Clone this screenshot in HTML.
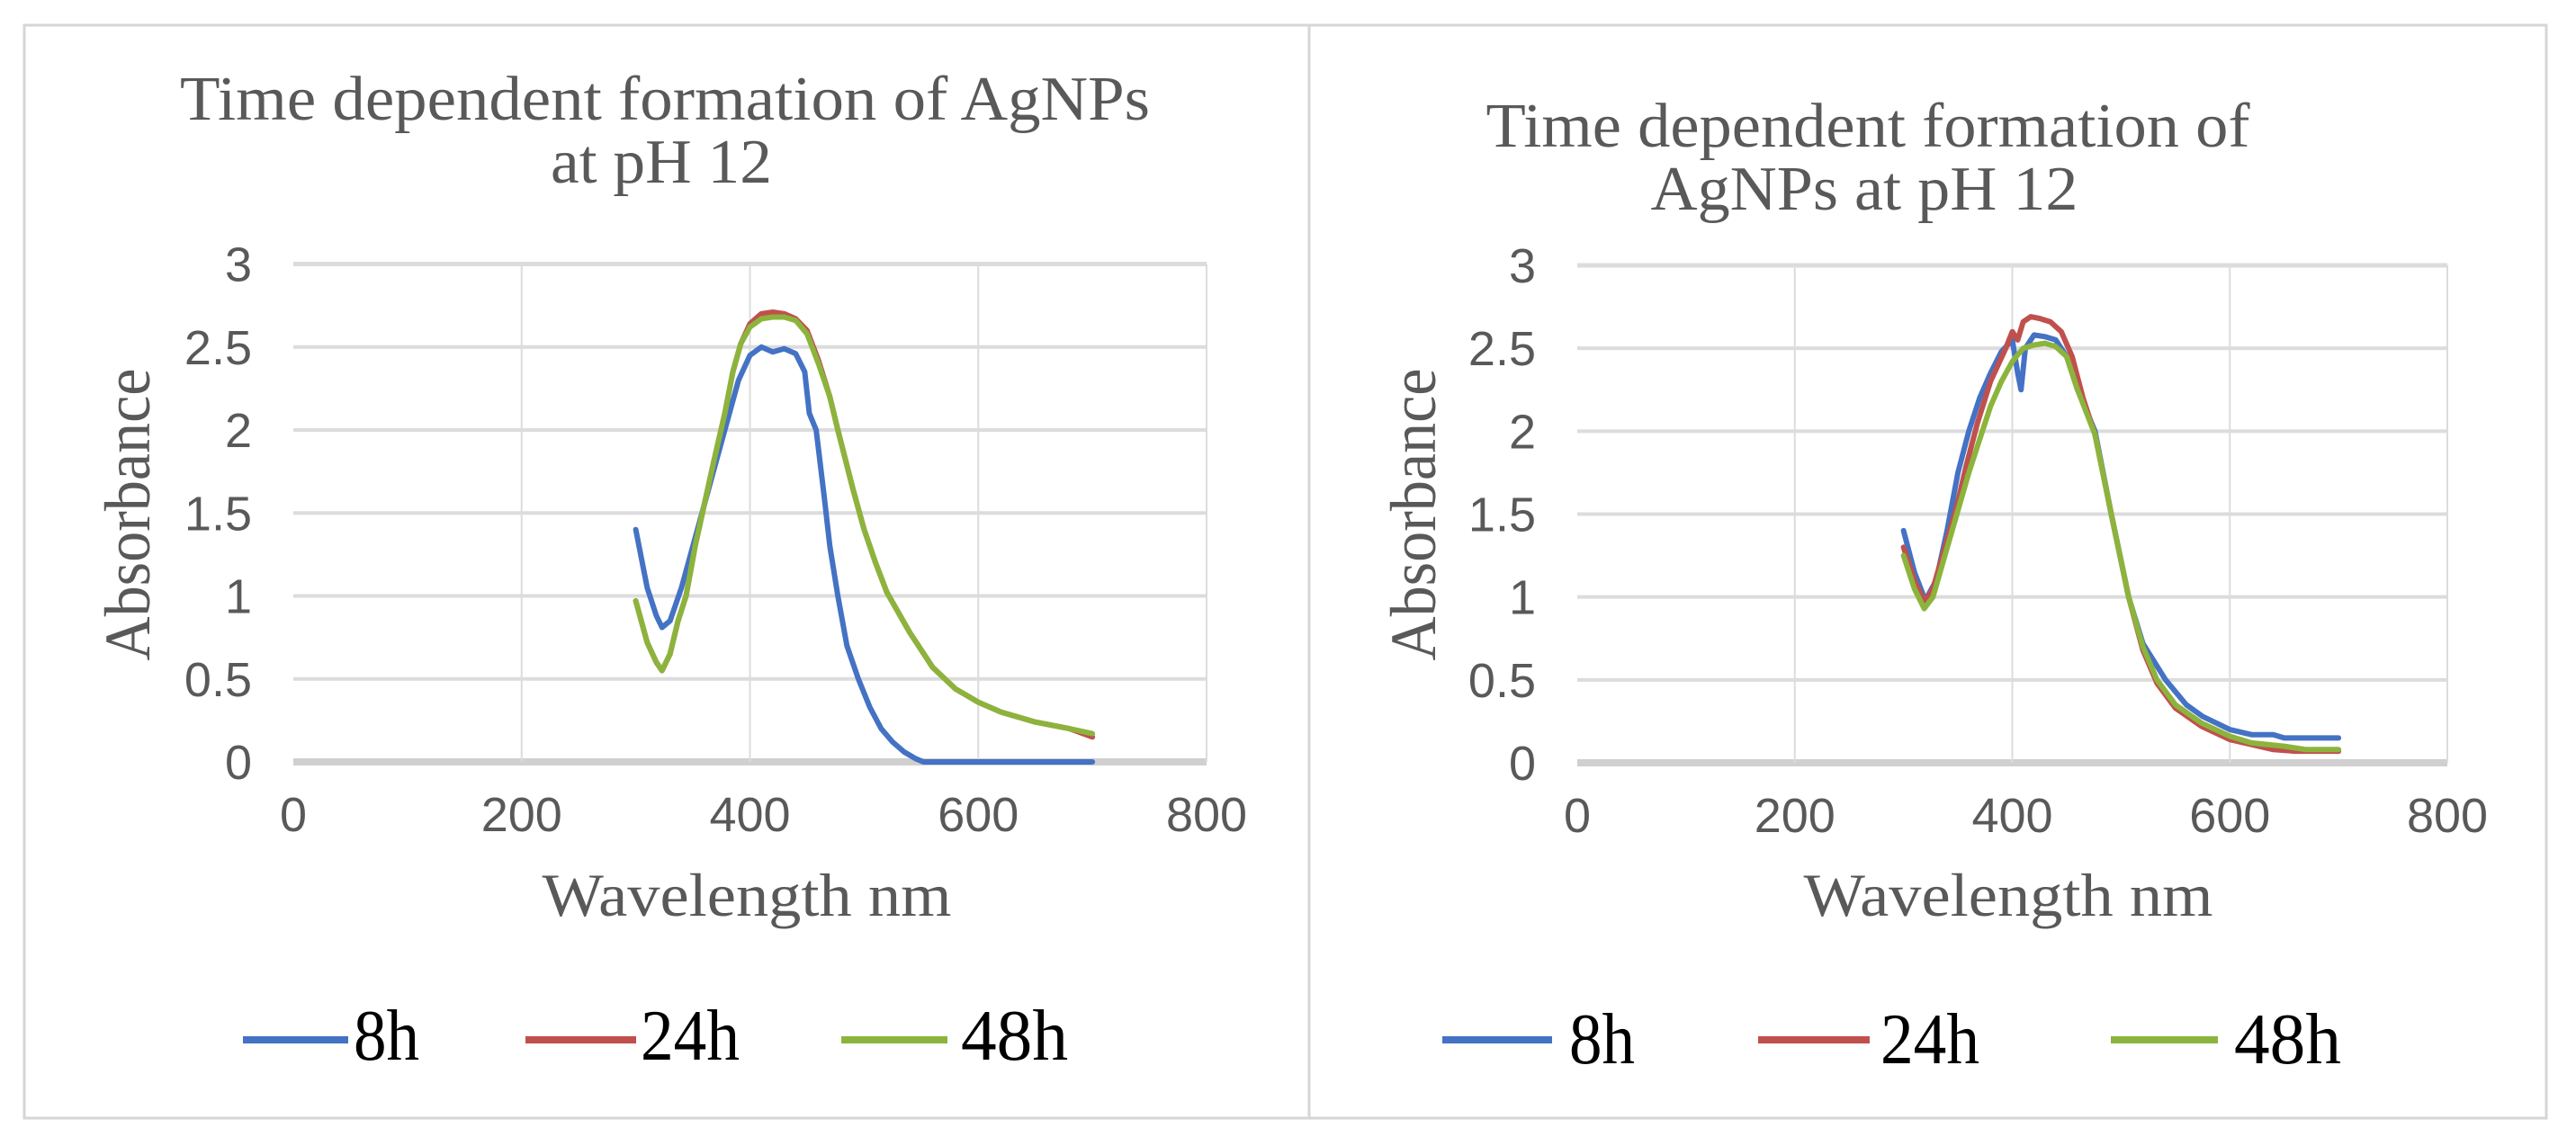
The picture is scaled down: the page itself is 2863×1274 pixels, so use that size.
<!DOCTYPE html>
<html><head><meta charset="utf-8"><style>
html,body{margin:0;padding:0;background:#fff;}
svg{display:block;}
</style></head><body>
<svg id="fig" width="2863" height="1274" viewBox="0 0 2863 1274" xmlns="http://www.w3.org/2000/svg">
<rect x="0" y="0" width="2863" height="1274" fill="#fff"/>
<rect x="27" y="28" width="2803" height="1215" fill="none" stroke="#d6d6d6" stroke-width="3"/>
<line x1="1455" y1="28" x2="1455" y2="1243" stroke="#d6d6d6" stroke-width="3"/>
<g id="left"></g>
<g id="right"></g>
</svg>
<script>
const xTicks = [0, 200, 400, 600, 800];
const yTicks = [0, 0.5, 1, 1.5, 2, 2.5, 3];
const yTickLabels = ["0", "0.5", "1", "1.5", "2", "2.5", "3"];
const seriesNames = ["8h", "24h", "48h"];
const seriesColors = ["#4472C4", "#C0504D", "#8CB43C"];

const leftX8 = [300,310,318,323,330,340,350,360,370,380,390,400,410,420,430,440,448,452,458,465,470,477,485,495,505,515,525,535,545,552,600,650,700];
const leftY8 = [1.4,1.05,0.88,0.81,0.85,1.05,1.3,1.55,1.8,2.05,2.3,2.45,2.5,2.47,2.49,2.46,2.35,2.1,2.0,1.6,1.3,1.0,0.7,0.5,0.33,0.2,0.12,0.06,0.02,0,0,0,0];
const leftX24 = [300,310,318,323,330,337,344,352,359,368,378,385,392,400,410,420,430,440,450,460,470,477,490,500,510,520,540,560,580,600,620,650,680,700];
const leftY24 = [0.97,0.72,0.6,0.55,0.65,0.85,1.0,1.3,1.52,1.8,2.1,2.35,2.52,2.64,2.7,2.71,2.7,2.67,2.6,2.42,2.2,2.0,1.65,1.4,1.2,1.02,0.78,0.57,0.44,0.36,0.3,0.24,0.2,0.15];
const leftX48 = [300,310,318,323,330,337,344,352,359,368,378,385,392,400,410,420,430,440,450,460,470,477,490,500,510,520,540,560,580,600,620,650,680,700];
const leftY48 = [0.97,0.72,0.6,0.55,0.65,0.85,1.0,1.3,1.52,1.8,2.1,2.35,2.52,2.62,2.67,2.68,2.68,2.66,2.58,2.4,2.2,2.0,1.65,1.4,1.2,1.02,0.78,0.57,0.44,0.36,0.3,0.24,0.2,0.17];

const rightX8 = [300,310,320,330,340,350,360,370,380,390,400,405,408,412,420,430,440,450,460,476,491,507,520,541,560,575,600,620,640,650,700];
const rightY8 = [1.4,1.15,0.98,1.1,1.4,1.75,2.0,2.2,2.35,2.48,2.55,2.35,2.25,2.5,2.58,2.57,2.55,2.45,2.25,2.0,1.5,1.0,0.72,0.5,0.35,0.28,0.2,0.17,0.17,0.15,0.15];
const rightX24 = [300,310,319,327,338,349,358,368,380,394,400,405,410,417,425,435,445,455,465,476,491,507,520,533,550,574,600,620,640,660,700];
const rightY24 = [1.3,1.1,0.97,1.05,1.3,1.55,1.8,2.05,2.3,2.5,2.6,2.55,2.66,2.69,2.68,2.66,2.6,2.45,2.2,1.98,1.5,1.0,0.68,0.48,0.33,0.22,0.14,0.11,0.08,0.07,0.07];
const rightX48 = [300,310,319,327,338,349,360,370,380,390,400,410,420,430,440,450,460,476,491,507,520,533,550,574,600,620,650,670,700];
const rightY48 = [1.25,1.05,0.93,1.0,1.25,1.5,1.75,1.95,2.15,2.3,2.42,2.5,2.52,2.53,2.51,2.45,2.25,1.98,1.5,1.0,0.7,0.5,0.35,0.24,0.16,0.12,0.1,0.08,0.08];

const NS = "http://www.w3.org/2000/svg";
function mk(tag, attrs, parent, txt){
  const e = document.createElementNS(NS, tag);
  for (const k in attrs) e.setAttribute(k, attrs[k]);
  if (txt !== undefined) e.textContent = txt;
  parent.appendChild(e);
  return e;
}
function drawChart(g, cfg, xs, ys){
  const sx = v => cfg.x0 + (v - 0) / 800 * (cfg.x1 - cfg.x0);
  const sy = v => cfg.y0 - v / 3 * (cfg.y0 - cfg.y1);
  cfg.title.forEach((t, i) => {
    const el = mk("text", {x: t.cx, y: t.y, "text-anchor":"middle", "font-family":"Liberation Serif, serif", "font-size":"70", fill:"#595959", textLength:t.w, lengthAdjust:"spacingAndGlyphs"}, g, t.s);
    
    
  });
  yTicks.forEach((v, i) => {
    const ln = mk("line", {x1:cfg.x0, x2:cfg.x1, y1:sy(v), y2:sy(v), stroke: v===0 ? "#d0d0d0" : "#dcdcdc", "stroke-width": v===0 ? 8 : (v===3?5:4)}, g);
    
    
    const tx = mk("text", {x:cfg.ylabX, y:sy(v)+19, "text-anchor":"end", "font-family":"Liberation Sans, sans-serif", "font-size":"54", fill:"#595959"}, g, yTickLabels[i]);
    
    
  });
  xTicks.forEach(v => {
    if (v > 0) {
      const ln = mk("line", {x1:sx(v), x2:sx(v), y1:cfg.y1, y2:cfg.y0, stroke:"#dcdcdc", "stroke-width":2}, g);
      
      
    }
    const tx = mk("text", {x:sx(v), y:cfg.y0+77, "text-anchor":"middle", "font-family":"Liberation Sans, sans-serif", "font-size":"54", fill:"#595959"}, g, String(v));
    
    
  });
  const xt = mk("text", {x:cfg.xtCx, y:1018, "text-anchor":"middle", "font-family":"Liberation Serif, serif", "font-size":"68", fill:"#595959", textLength:455, lengthAdjust:"spacingAndGlyphs"}, g, "Wavelength nm");
  
  
  const yt = mk("text", {x:0, y:0, "text-anchor":"middle", "font-family":"Liberation Serif, serif", "font-size":"72", fill:"#595959", textLength:325, lengthAdjust:"spacingAndGlyphs", transform:`translate(${cfg.ytX},572) rotate(-90)`}, g, "Absorbance");
  
  
  for (let s = 0; s < 3; s++) {
    const d = xs[s].map((x, i) => (i ? "L" : "M") + sx(x).toFixed(1) + "," + sy(ys[s][i]).toFixed(1)).join(" ");
    const p = mk("path", {d, fill:"none", stroke:seriesColors[s], "stroke-width":6, "stroke-linejoin":"round", "stroke-linecap":"round"}, g);
    
    
  }
  cfg.legend.forEach((L, s) => {
    const ln = mk("line", {x1:L.l0, x2:L.l1, y1:1156, y2:1156, stroke:seriesColors[s], "stroke-width":8}, g);
    
    
    const tx = mk("text", {x:L.t, y:cfg.legY, "font-family":"Liberation Serif, serif", "font-size":"80", fill:"#000", textLength:L.tw, lengthAdjust:"spacingAndGlyphs"}, g, seriesNames[s]);
    
    
  });
}
drawChart(document.getElementById("left"), {
  x0:326, x1:1341, y0:847, y1:293.5, ylabX:280, xtCx:830, ytX:166,
  title:[{s:"Time dependent formation of AgNPs", cx:739, y:133, w:1078},{s:"at pH 12", cx:735, y:203, w:246}],
  legY:1178,
  legend:[{l0:270,l1:387,t:393,tw:73},{l0:584,l1:707,t:712,tw:110},{l0:935,l1:1053,t:1068,tw:119}]
}, [leftX8, leftX24, leftX48], [leftY8, leftY24, leftY48]);
drawChart(document.getElementById("right"), {
  x0:1753, x1:2720, y0:848, y1:295, ylabX:1707, xtCx:2232, ytX:1595,
  title:[{s:"Time dependent formation of", cx:2076, y:163, w:849},{s:"AgNPs at pH 12", cx:2072, y:233, w:475}],
  legY:1182,
  legend:[{l0:1603,l1:1725,t:1744,tw:73},{l0:1954,l1:2078,t:2090,tw:110},{l0:2346,l1:2465,t:2483,tw:119}]
}, [rightX8, rightX24, rightX48], [rightY8, rightY24, rightY48]);
</script>
</body></html>
